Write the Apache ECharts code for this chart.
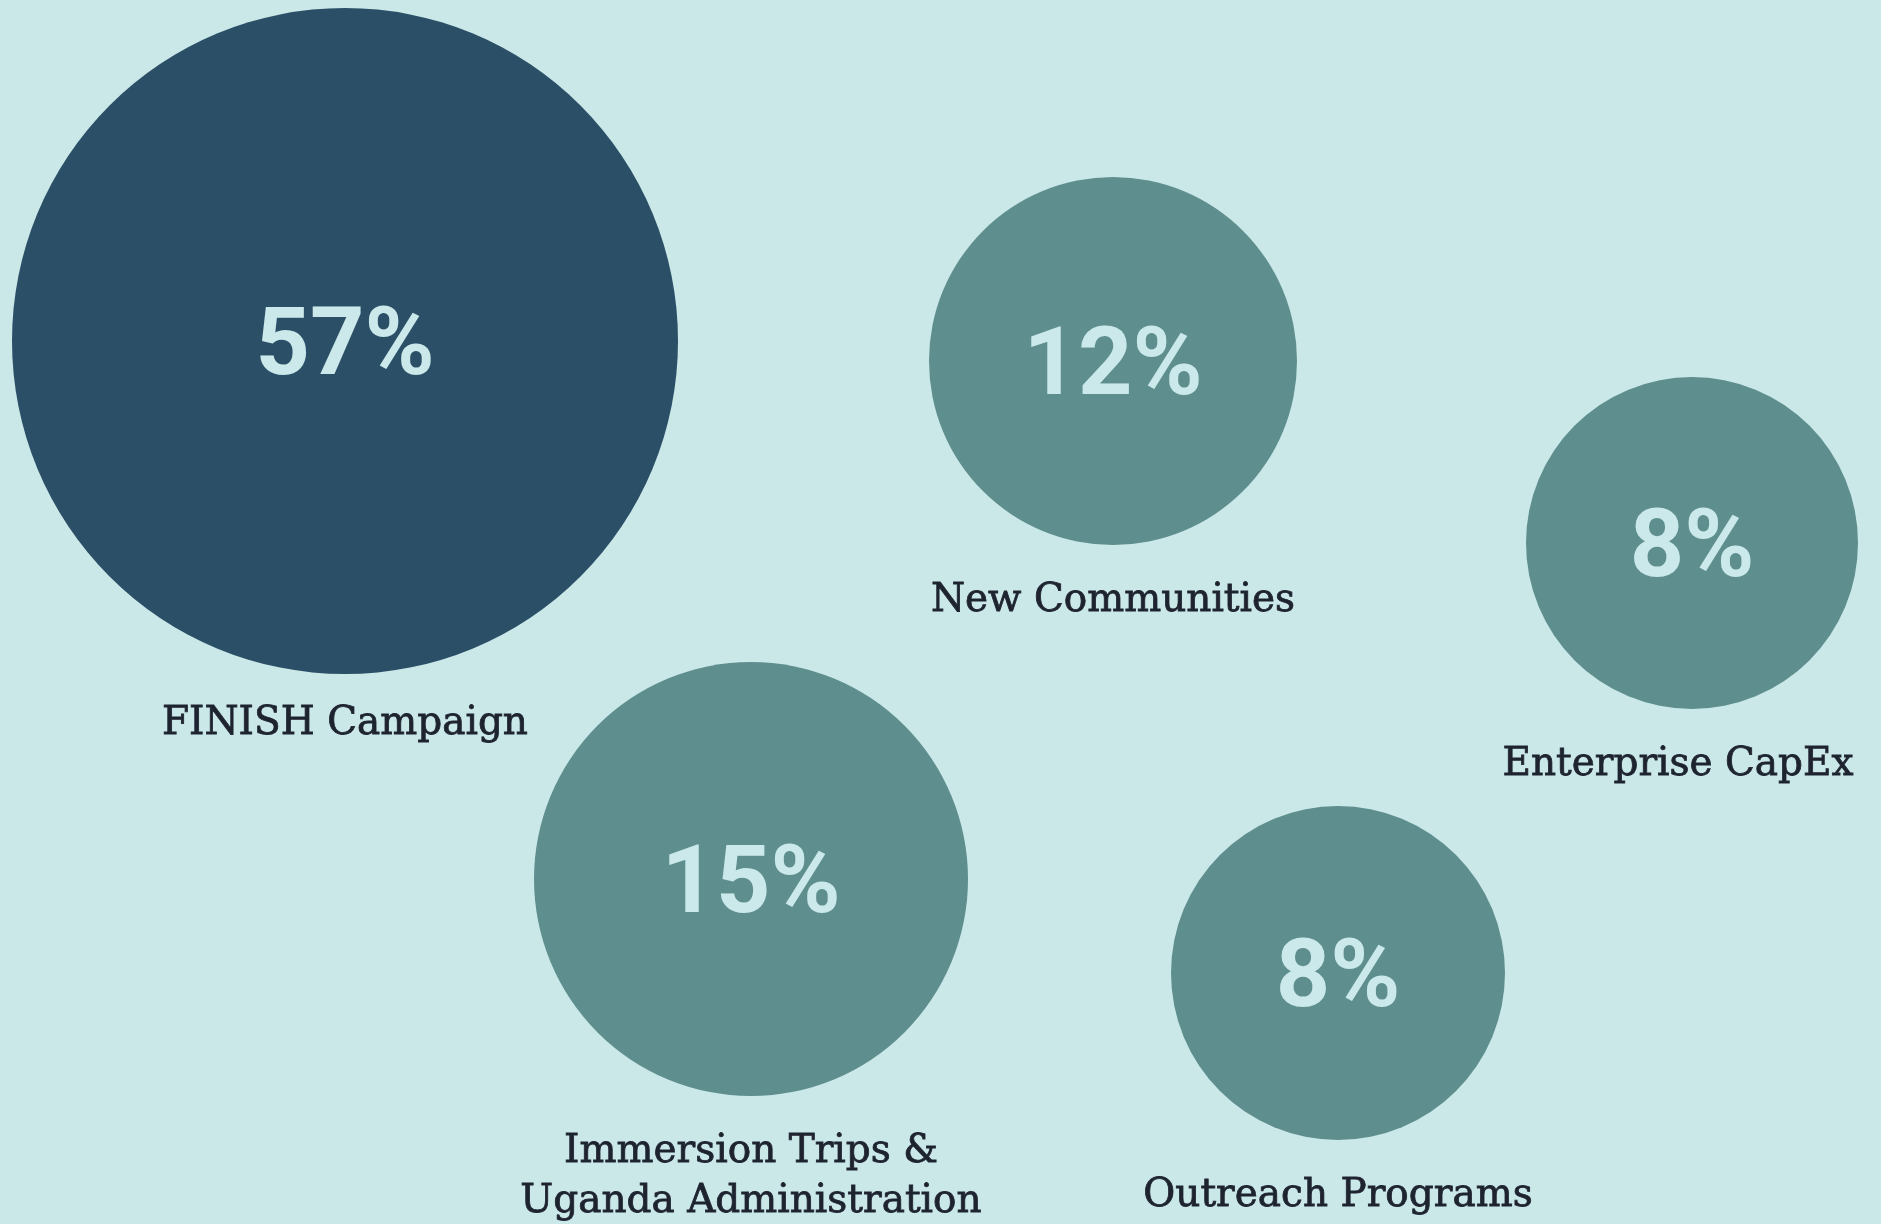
<!DOCTYPE html>
<html>
<head>
<meta charset="utf-8">
<script src="https://cdn.jsdelivr.net/npm/echarts@6/dist/echarts.min.js"></script>
<style>
  html, body { margin: 0; padding: 0; background: #cbe8e9; }
  #chart { width: 1881px; height: 1224px; }
</style>
</head>
<body>
<div id="chart"></div>
<script>
// ---- data ----
const categories = [
  'FINISH Campaign',
  'New Communities',
  'Enterprise CapEx',
  'Immersion Trips &\nUganda Administration',
  'Outreach Programs'
];
const shares = [57, 12, 8, 15, 8];

// ---- layout (bubble placement on the canvas, in px) ----
const layoutX = [345, 1113, 1692, 751, 1338];
const layoutY = [341, 361, 543, 879, 973];
const diameters = [666, 368, 332, 434, 334];
const labelShiftX = [0, 0, -14, 0, 0];
const labelShiftY = [-6, 0, 0, 0, 0];

// ---- styles ----
const BG = '#cbe8e9';
const DARK = '#2b4f66';
const TEAL = '#5e8e8e';
const PCT_TEXT = '#cbe9ea';
const NAME_TEXT = '#1e2330';

const points = categories.map((name, i) => ({
  name: name,
  value: [layoutX[i], layoutY[i], shares[i]],
  symbolSize: diameters[i],
  itemStyle: { color: i === 0 ? DARK : TEAL, opacity: 1 }
}));

const namePoints = categories.map((name, i) => ({
  name: name,
  value: [layoutX[i], layoutY[i], shares[i]],
  symbolSize: diameters[i],
  label: { offset: [labelShiftX[i], labelShiftY[i]] }
}));

const chart = echarts.init(document.getElementById('chart'), null, { renderer: 'canvas' });
chart.setOption({
  backgroundColor: BG,
  animation: false,
  grid: { left: 0, right: 0, top: 0, bottom: 0 },
  xAxis: { type: 'value', min: 0, max: 1881, show: false },
  yAxis: { type: 'value', min: 0, max: 1224, inverse: true, show: false },
  series: [
    {
      type: 'scatter',
      symbol: 'circle',
      data: points,
      silent: true,
      itemStyle: { opacity: 1 },
      label: {
        show: true,
        position: 'inside',
        offset: [0, 9],
        formatter: p => p.value[2] + '%',
        color: PCT_TEXT,
        opacity: 1,
        fontFamily: "Roboto, sans-serif",
        fontWeight: 'bold',
        fontSize: 95
      }
    },
    {
      type: 'scatter',
      symbol: 'circle',
      data: namePoints,
      silent: true,
      itemStyle: { color: 'rgba(0,0,0,0)', opacity: 1 },
      label: {
        show: true,
        position: 'bottom',
        distance: 31,
        formatter: p => p.name,
        color: NAME_TEXT,
        opacity: 1,
        textBorderColor: NAME_TEXT,
        textBorderWidth: 0.8,
        fontFamily: "'DejaVu Serif', 'Liberation Serif', serif",
        fontSize: 39,
        lineHeight: 50,
        align: 'center'
      }
    }
  ]
});
</script>
</body>
</html>
